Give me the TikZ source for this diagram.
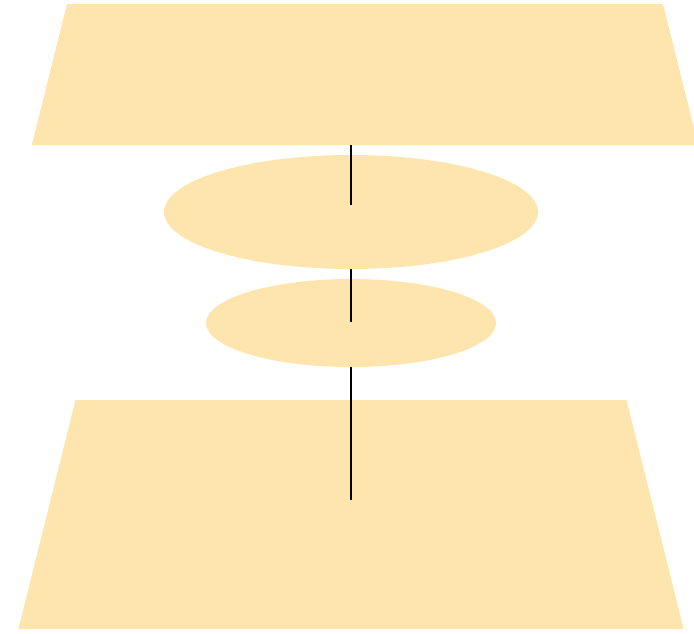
\documentclass[tikz,border=0pt]{standalone}
\usepackage{tikz}
\usetikzlibrary{positioning,calc,shapes.geometric}
\usepackage{xcolor}
\definecolor{sand}{RGB}{254,229,173}
\newcommand{\blankbox}[2]{\phantom{\rule{#1}{#2}}}

\begin{document}
\begin{tikzpicture}[x=1pt,y=-1pt,
    layer/.style={trapezium,fill=sand,draw=none,trapezium angle=76,inner sep=0pt},
    disc/.style={ellipse,fill=sand,draw=none,inner sep=0pt},
    link/.style={black,line width=1.3pt}]
\useasboundingbox (0,0) rectangle (694,633);

% Schichten
\node[layer] (roof) at (365,74.5) {\blankbox{596pt}{141pt}};
\node[disc,minimum width=374pt,minimum height=114pt] (upper) at (351,212) {};
\node[disc,minimum width=290pt,minimum height=88pt] (lower) at (351,323) {};
\node[layer] (base) at (351,514.5) {\blankbox{551pt}{229pt}};

\draw[link] (upper.center |- roof.south) -- ([yshift=7pt]upper.center);
\draw[link] (upper.south) -- ([yshift=1pt]lower.center);
\draw[link] (lower.south) -- ([yshift=15pt]base.center);

\end{tikzpicture}
\end{document}
